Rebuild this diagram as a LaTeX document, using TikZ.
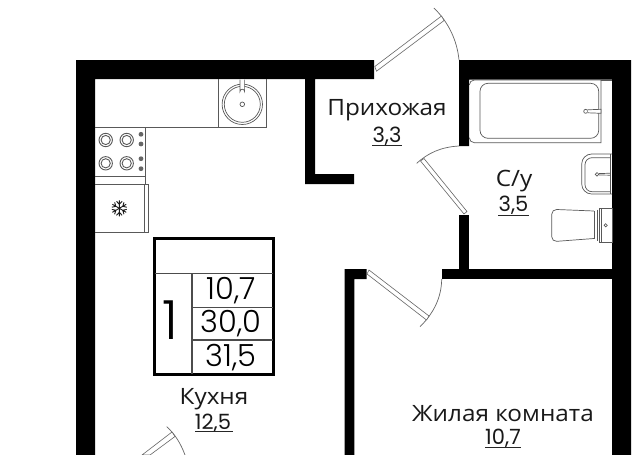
\documentclass[tikz,border=0pt]{standalone}
\usepackage{fontspec}
\setmainfont{Open Sans}[FakeStretch=1.08]
\newfontfamily\numf{Poppins Light}
\newfontfamily\numr{Poppins}
\tikzset{
  x=1pt,y=-1pt,
  wall/.style={fill=black,draw=none},
  thin line/.style={draw=black!65,line width=0.7pt},
  fine/.style={draw=black!60,line width=0.7pt},
  panel/.style={draw=black!60,line width=0.6pt,fill=white},
  lbl/.style={font=\fontsize{22.5}{24}\selectfont,text=black!90,inner sep=0pt},
  area/.style={font=\numr\fontsize{21}{24}\selectfont,text=black!90,inner sep=0pt},
  tnum/.style={font=\numf\fontsize{30.5}{32}\selectfont,text=black,inner sep=0pt},
  uline/.style={draw=black!85,line width=0.9pt},
}
\begin{document}
\begin{tikzpicture}
\useasboundingbox (0,0) rectangle (640,455);
\fill[white] (0,0) rectangle (640,455);
% walls
\fill[wall] (76,455) -- (76,60) -- (374,60) -- (374,79) -- (315,79) -- (315,174) -- (354,174) -- (354,184) -- (305,184) -- (305,79) -- (95,79) -- (95,455) -- cycle;
\fill[wall] (459,146) -- (459,60) -- (631,60) -- (631,455) -- (612,455) -- (612,79.5) -- (469,79.5) -- (469,146) -- cycle;
\fill[wall] (459,214.5) rectangle (469,269.5);
\fill[wall] (441.5,269.2) rectangle (612,278.5);
\fill[wall] (344.5,455) -- (344.5,269.2) -- (366.7,269.2) -- (366.7,279) -- (354.3,279) -- (354.3,455) -- cycle;
% kitchen fittings
\draw[thin line] (95,127) -- (266.7,127) -- (266.7,79);
\draw[thin line] (218.3,79) -- (218.3,127);
\draw[thin line] (145,127) -- (145,176) -- (95,176);
\draw[thin line] (95,184.3) -- (148.3,184.3) -- (148.3,232.3) -- (95,232.3);
\draw[thin line] (144,184.3) -- (144,232.3);
\draw[thin line] (145,176) -- (145,184.3);
\foreach \p in {(105.7,140),(126.7,140),(105.7,163.3),(126.7,163.3)}{
  \draw[thin line,line width=0.9pt] \p circle[radius=6.7];
  \draw[thin line,line width=0.9pt] \p circle[radius=4.6];
}
\foreach \p in {(141,134.3),(141,144),(141,158.7),(141,168.7)}{
  \fill[black!60] \p circle[radius=2.4];
}
% snowflake
\begin{scope}[shift={(119.3,208.3)}]
\foreach \a in {30,90,150,210,270,330}{
  \draw[draw=black!90,line width=0.9pt,rotate=\a] (0,0) -- (8,0) (4,0) -- (7,2.8) (4,0) -- (7,-2.8);
}
\end{scope}
% sink
\draw[thin line] (242.3,104.3) circle[radius=20.2];
\draw[thin line] (242.3,104.3) circle[radius=18];
\draw[thin line,fill=white] (240,79.5) -- (240,91.5) arc[start angle=180,end angle=360,radius=2.3] -- (244.6,79.5);
\draw[thin line] (242.3,104.3) circle[radius=2.3];
% bath
\draw[thin line] (469.3,85) arc[start angle=180,end angle=270,radius=5] -- (601,80) -- (601,142.7) -- (474.3,142.7) arc[start angle=90,end angle=180,radius=5];
\draw[thin line] (601,80) -- (612,80);
\draw[thin line,rounded corners=8pt] (480,83.3) rectangle (598.7,138.3);
\draw[thin line] (585.7,111.3) circle[radius=2];
\draw[thin line,fill=white] (587.7,109.8) -- (601,109.3) -- (601,113.3) -- (587.7,112.8);
% basin
\draw[thin line,rounded corners=10pt] (612,154) -- (581.7,154) -- (581.7,194) -- (612,194);
\draw[thin line,rounded corners=7pt] (610.7,157.7) -- (585,157.7) -- (585,191.7) -- (610.7,191.7);
\draw[thin line] (610.7,154) -- (610.7,194);
\draw[thin line] (597,174.3) circle[radius=1.8];
\draw[thin line] (598.8,173.6) -- (610.7,173.2) (598.8,175) -- (610.7,175.2);
% toilet
\draw[thin line] (599.3,208.3) rectangle (612,242.7);
\draw[thin line] (601.7,208.3) -- (601.7,242.7);
\draw[thin line] (605.7,225.3) circle[radius=1.6];
\draw[thin line] (597.5,209.5) -- (597.5,241);
\draw[thin line,rounded corners=5pt] (594,211) -- (551.7,209.3) -- (551.7,241.7) -- (594,238.5);
\draw[thin line] (594,211) -- (594,238.5);
% doors
\draw[fine] (459,60) arc[start angle=-5.5,end angle=-46,radius=83.4];
\draw[panel] (374.8,66.5) -- (441.5,16) -- (444,20.6) -- (376.5,71.2) -- cycle;
\draw[fine] (459,146) .. controls (441,147) and (428,153) .. (416.7,163.3);
\draw[panel] (424,158.5) -- (467,211.5) -- (464,214) -- (420.5,161) -- cycle;
\draw[fine] (441.7,279) .. controls (441.5,297) and (434,313) .. (420,326.7);
\draw[panel] (369,270) -- (429,316) -- (426.5,320) -- (367,274) -- cycle;
\draw[fine] (166.7,426.7) .. controls (175,434) and (181,444) .. (185,455);
\draw[panel] (172,432) -- (175,436.5) -- (150,455) -- (142,455) -- cycle;
% table
\node[draw=black,line width=3pt,minimum width=119.6pt,minimum height=135.7pt,inner sep=0pt,anchor=north west] (tbl) at (152.7,237.3) {};
\draw[draw=black!70,line width=1.2pt] (155,273.3) -- (273,273.3) (192,273.3) -- (192,374) (192,307.3) -- (273,307.3) (192,340) -- (273,340);
\node[tnum] (a) at (231.5,291) {10,7};
\node[tnum] (b) at (231,324) {30,0};
\node[tnum] (c) at (231,358) {31,5};
\node[tnum,font=\numf\fontsize{54}{56}\selectfont] (one) at (170.5,320) {1};
% labels
\node[lbl] (l1) at (387,110) {Прихожая};
\node[area] (n1) at (387,136) {3,3};
\draw[uline] (372,145.5) -- (402,145.5);
\node[lbl] (l2) at (514,181.5) {С/у};
\node[area] (n2) at (513.5,205) {3,5};
\draw[uline] (498,215) -- (528.5,215);
\node[lbl] (l3) at (214,399) {Кухня};
\node[area] (n3) at (213,423) {12,5};
\draw[uline] (195,431.7) -- (233,431.7);
\node[lbl] (l4) at (503,413.5) {Жилая комната};
\node[area] (n4) at (503,438) {10,7};
\draw[uline] (485,447) -- (521,447);
\end{tikzpicture}
\end{document}
